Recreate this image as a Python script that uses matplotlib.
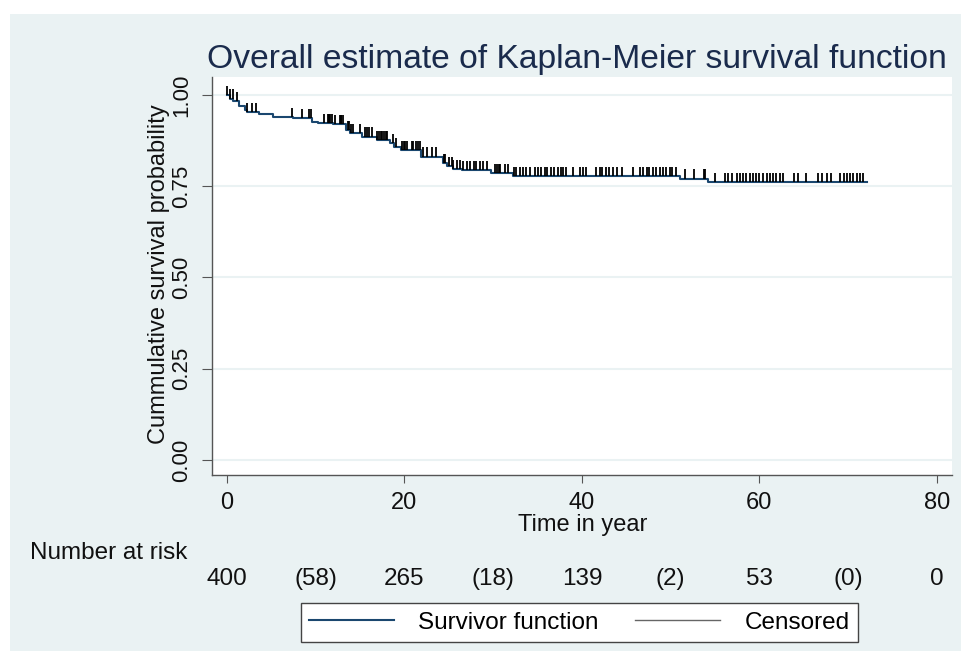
import matplotlib.pyplot as plt
import matplotlib.transforms as mtransforms
from matplotlib.lines import Line2D
from matplotlib.patches import Rectangle
import numpy as np

plt.rcParams['font.family'] = ['Liberation Sans', 'DejaVu Sans']

# step times (event times) and survival after each step
event_t = [0, 0.3, 0.7, 1.4, 2.0, 2.2, 3.6, 5.2, 7.4, 9.6, 10.2, 12.0, 13.4, 13.9,
           15.2, 16.9, 18.4, 18.8, 19.6, 21.9, 24.3, 24.8, 25.5, 26.5, 29.8, 32.2,
           51.0, 54.2]
surv = [1.0, 0.990, 0.982, 0.970, 0.959, 0.954, 0.947, 0.939, 0.936, 0.927, 0.922,
        0.920, 0.904, 0.895, 0.886, 0.877, 0.868, 0.858, 0.849, 0.831, 0.813, 0.804,
        0.796, 0.793, 0.787, 0.778, 0.771, 0.762]
end_t = 72.1

# censoring times
cens_t = [0.05, 0.35, 0.65, 1.1, 2.2, 2.8, 3.3, 7.3, 8.4, 9.2, 9.5, 10.9, 11.4, 11.5,
          11.6, 11.8, 12.2, 12.7, 12.8, 12.9, 13.1, 13.6, 13.8, 14.0, 14.2, 15.0, 15.5,
          15.8, 16.0, 16.3, 16.9, 17.1, 17.3, 17.5, 17.7, 17.9, 18.0, 18.7, 19.1, 19.7,
          19.9, 20.1, 20.3, 20.8, 21.0, 21.3, 21.5, 21.7, 22.1, 22.5, 23.1, 23.6, 24.4,
          24.6, 25.0, 25.3, 25.5, 25.9, 26.3, 26.6, 27.0, 27.4, 27.8, 28.1, 28.5, 28.9,
          29.3, 30.2, 30.4, 30.6, 30.8, 31.3, 31.7, 32.3, 32.6, 33.0, 33.3, 33.7, 34.1,
          34.7, 35.0, 35.4, 35.8, 36.1, 36.5, 36.9, 37.3, 37.6, 37.9, 38.2, 39.0, 39.8,
          40.1, 40.5, 41.6, 42.0, 42.3, 42.7, 43.1, 43.5, 43.9, 44.5, 45.8, 46.5, 46.9,
          47.3, 47.6, 48.0, 48.4, 48.8, 49.1, 49.5, 49.9, 50.2, 50.6, 51.6, 52.6, 53.7,
          53.9, 55.0, 56.1, 56.5, 56.9, 57.5, 57.8, 58.2, 58.5, 58.9, 59.3, 59.6, 60.0,
          60.4, 60.8, 61.2, 61.5, 61.9, 62.3, 62.7, 63.9, 64.4, 65.3, 66.6, 67.0, 67.6,
          68.1, 69.1, 69.5, 69.9, 70.2, 70.6, 71.0, 71.3, 71.7]

risk_t = [0, 10, 20, 30, 40, 50, 60, 70, 80]
risk_lab = ['400', '(58)', '265', '(18)', '139', '(2)', '53', '(0)', '0']

xticks = [0, 20, 40, 60, 80]
yticks = [0, 0.25, 0.5, 0.75, 1.0]
ytick_lab = ['0.00', '0.25', '0.50', '0.75', '1.00']

W, H = 962, 651
navy = '#1a476f'
panel = '#eaf2f3'

fig = plt.figure(figsize=(W / 100, H / 100), dpi=100)
fig.patch.set_facecolor('white')
fig.patches.append(Rectangle((10 / W, 0), (W - 10) / W, (H - 14) / H,
                             transform=fig.transFigure, facecolor=panel,
                             edgecolor='none', zorder=-10))

ax = fig.add_axes([212 / W, 1 - 475 / H, 740 / W, 398 / H])
ax.set_facecolor('white')
ax.set_xlim(-1.69, 81.7)
ax.set_ylim(-0.041, 1.049)

for y in yticks:
    ax.axhline(y, color=panel, lw=1.5, zorder=0)

# KM curve
ax.step(event_t + [end_t], surv + [surv[-1]], where='post', color=navy, lw=1.5, zorder=3)

# censor marks
idx = np.searchsorted(event_t, cens_t, side='right') - 1
s_at = np.array(surv)[idx]
ax.vlines(cens_t, s_at, s_at + 0.025, colors='black', lw=1.3, zorder=4)

for side in ['top', 'right']:
    ax.spines[side].set_visible(False)
for side in ['left', 'bottom']:
    ax.spines[side].set_color('#555555')
    ax.spines[side].set_linewidth(1.0)

ax.set_xticks(xticks)
ax.set_xticklabels([str(v) for v in xticks], fontsize=17, color='#111111')
ax.set_yticks(yticks)
ax.set_yticklabels(ytick_lab, fontsize=16, color='#111111', rotation=90, va='center')
ax.tick_params(axis='x', length=6, color='#555555', pad=6)
ax.tick_params(axis='y', length=7, color='#555555', pad=7)

fig.text(159 / W, 1 - 274 / H, 'Cummulative survival probability', rotation=90,
         ha='center', va='center', fontsize=17, color='#111111')
fig.text(583 / W, 1 - 525 / H, 'Time in year', ha='center', va='center',
         fontsize=17, color='#111111')
fig.text(207 / W, 1 - 68 / H, 'Overall estimate of Kaplan-Meier survival function',
         ha='left', va='baseline', fontsize=24.2, color='#1a2b4c')

# number at risk table
trans = mtransforms.blended_transform_factory(ax.transData, fig.transFigure)
fig.text(30 / W, 1 - 553 / H, 'Number at risk', ha='left', va='center',
         fontsize=17.5, color='#111111')
for t, lab in zip(risk_t, risk_lab):
    ax.text(t, 1 - 579 / H, lab, transform=trans, ha='center', va='center',
            fontsize=17.5, color='#111111', clip_on=False)

handles = [Line2D([], [], color=navy, lw=1.5),
           Line2D([], [], color='#666666', lw=1.0)]
leg = fig.legend(handles, ['Survivor function', 'Censored'], loc='center',
                 bbox_to_anchor=(579.5 / W, 1 - 622.5 / H), ncol=2, fontsize=17.5,
                 frameon=True, fancybox=False, framealpha=1, edgecolor='#444444',
                 handlelength=3.5, handletextpad=1.0, columnspacing=1.5,
                 borderpad=0.35, borderaxespad=0)
leg.get_frame().set_linewidth(1.0)

fig.savefig('out.png', dpi=100, facecolor=fig.get_facecolor())
